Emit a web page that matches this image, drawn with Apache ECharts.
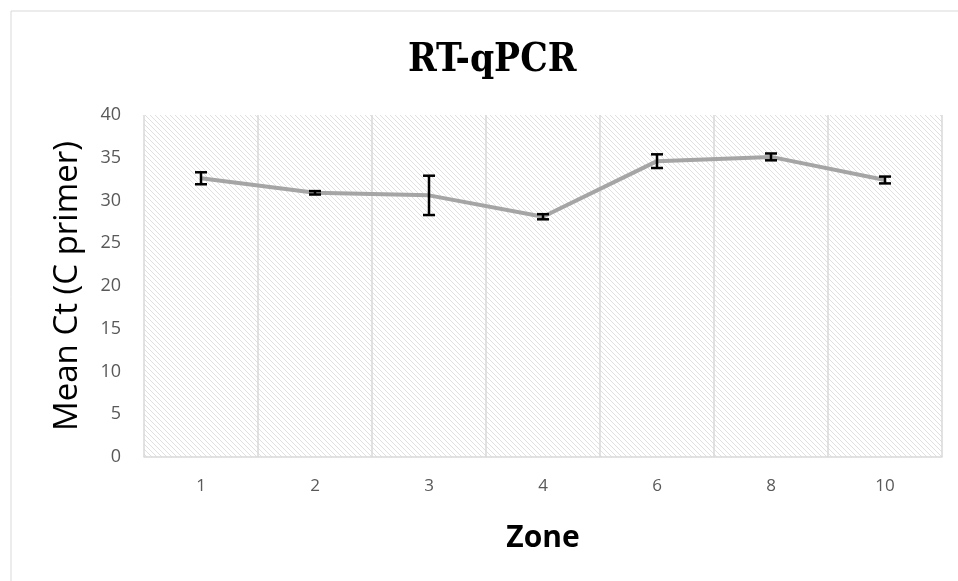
<!DOCTYPE html>
<html>
<head>
<meta charset="utf-8">
<script src="https://cdn.jsdelivr.net/npm/echarts@6/dist/echarts.min.js"></script>
<style>
  html, body { margin: 0; padding: 0; background: #fff; }
  #chart { width: 958px; height: 581px; }
</style>
</head>
<body>
<div id="chart"></div>
<script>
const zones = ['1', '2', '3', '4', '6', '8', '10'];
const meanCt = [32.6, 30.9, 30.6, 28.1, 34.6, 35.1, 32.4];
const errCt = [0.7, 0.2, 2.3, 0.3, 0.8, 0.4, 0.4];

// diagonal hatch for the plot background
const P = 5;
const hatch = document.createElement('canvas');
hatch.width = P;
hatch.height = P;
const hctx = hatch.getContext('2d');
hctx.fillStyle = '#ffffff';
hctx.fillRect(0, 0, P, P);
hctx.strokeStyle = '#e0e0e0';
hctx.lineWidth = 1;
hctx.beginPath();
hctx.moveTo(-1, -1); hctx.lineTo(P + 1, P + 1);
hctx.moveTo(-P - 1, -1); hctx.lineTo(1, P + 1);
hctx.moveTo(P - 1, -1); hctx.lineTo(2 * P + 1, P + 1);
hctx.stroke();

const errData = zones.map((z, i) => [i, meanCt[i] - errCt[i], meanCt[i] + errCt[i]]);

const chart = echarts.init(document.getElementById('chart'));
chart.setOption({
  animation: false,
  graphic: [{
    type: 'rect',
    shape: { x: 11, y: 11, width: 960, height: 600 },
    style: { fill: 'none', stroke: '#d9d9d9', lineWidth: 1 }
  }],
  title: {
    text: 'RT-qPCR',
    left: 403,
    top: 36,
    textStyle: { fontFamily: 'DejaVu Serif Condensed', fontWeight: 'bold', fontSize: 38.5, color: '#000' }
  },
  grid: {
    left: 144, right: 16, top: 115, bottom: 124,
    show: true,
    borderWidth: 0,
    backgroundColor: { image: hatch, repeat: 'repeat' }
  },
  xAxis: {
    type: 'category',
    data: zones,
    boundaryGap: true,
    name: 'Zone',
    nameLocation: 'middle',
    nameGap: 66,
    nameTextStyle: { fontFamily: 'Open Sans', fontWeight: 'bold', fontSize: 30, color: '#000' },
    axisLine: { lineStyle: { color: '#d9d9d9', width: 1.5 } },
    axisTick: { show: false },
    axisLabel: { margin: 21, fontFamily: 'Open Sans', fontSize: 17, color: '#595959' },
    splitLine: { show: true, lineStyle: { color: '#d9d9d9', width: 1.5 } }
  },
  yAxis: {
    type: 'value',
    min: 0, max: 40, interval: 5,
    name: 'Mean Ct (C primer)',
    nameLocation: 'middle',
    nameRotate: 90,
    nameGap: 60,
    nameTextStyle: { fontFamily: 'Open Sans', fontSize: 33, color: '#000' },
    axisLine: { show: false },
    axisTick: { show: false },
    axisLabel: { margin: 23, fontFamily: 'Open Sans', fontSize: 18, color: '#595959' },
    splitLine: { show: false }
  },
  series: [
    {
      type: 'line',
      data: meanCt,
      symbol: 'none',
      lineStyle: { color: '#a5a5a5', width: 4 },
      z: 2
    },
    {
      type: 'custom',
      data: errData,
      z: 3,
      renderItem: function (params, api) {
        const x = api.value(0);
        const lo = api.coord([x, api.value(1)]);
        const hi = api.coord([x, api.value(2)]);
        const half = 6;
        const style = { stroke: '#000', lineWidth: 2.5 };
        return {
          type: 'group',
          children: [
            { type: 'line', shape: { x1: lo[0], y1: lo[1], x2: hi[0], y2: hi[1] }, style: style },
            { type: 'line', shape: { x1: lo[0] - half, y1: lo[1], x2: lo[0] + half, y2: lo[1] }, style: style },
            { type: 'line', shape: { x1: hi[0] - half, y1: hi[1], x2: hi[0] + half, y2: hi[1] }, style: style }
          ]
        };
      }
    }
  ]
});
</script>
</body>
</html>
